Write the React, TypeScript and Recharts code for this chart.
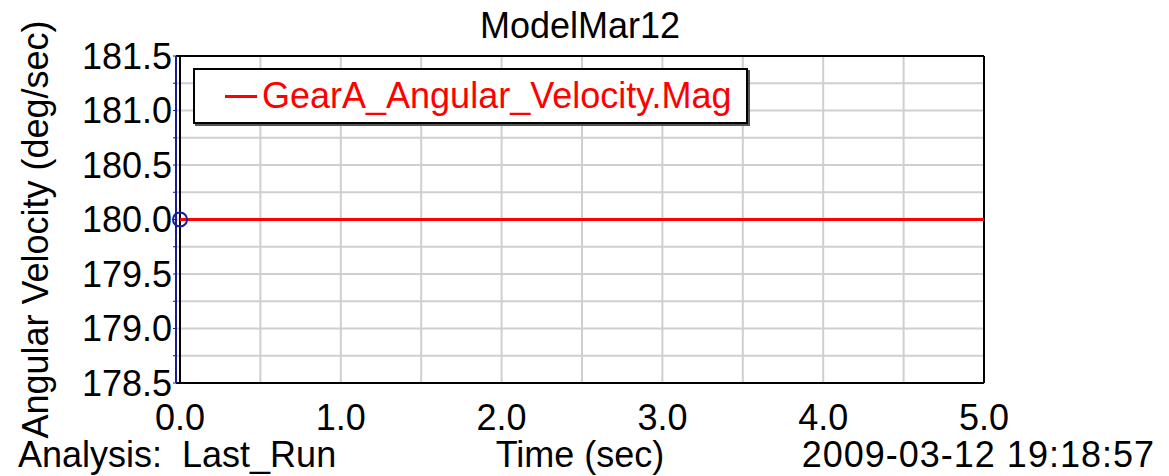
import { LineChart, Line, XAxis, YAxis, CartesianGrid, ReferenceLine, ReferenceDot } from "recharts";

const TIME = [0, 1, 2, 3, 4, 5];
const VELOCITY = [180, 180, 180, 180, 180, 180];
const X_TICKS = [0, 0.5, 1, 1.5, 2, 2.5, 3, 3.5, 4, 4.5, 5];
const Y_TICKS = [178.5, 178.75, 179, 179.25, 179.5, 179.75, 180, 180.25, 180.5, 180.75, 181, 181.25, 181.5];
const SERIES_NAME = "GearA_Angular_Velocity.Mag";

const data = TIME.map((t, i) => ({ t, vel: VELOCITY[i] }));

const FONT = "'Liberation Sans', Arial, sans-serif";
const tickStyle = { fill: "#000", fontSize: 36, fontFamily: FONT };

export default function App() {
  return (
    <div style={{ position: "absolute", left: 0, top: 0, width: 1169, height: 476, background: "#fff", fontFamily: FONT }}>
      <div style={{ position: "absolute", left: 0, width: 1160, top: 6, textAlign: "center", fontSize: 36, lineHeight: "40px" }}>ModelMar12</div>
      <LineChart width={1169} height={476} data={data} margin={{ top: 56, right: 185, bottom: 0, left: 0 }}>
        <CartesianGrid stroke="#cfcfcf" strokeWidth={2} />
        <XAxis
          dataKey="t" type="number" domain={[0, 5]} ticks={X_TICKS} interval={0} padding={{ left: 4, right: 0 }}
          tickFormatter={(v: number) => (Number.isInteger(v) ? v.toFixed(1) : "")}
          tick={tickStyle} axisLine={{ stroke: "#000", strokeWidth: 2 }} tickLine={false} tickMargin={15} height={93}
        />
        <YAxis
          type="number" domain={[178.5, 181.5]} ticks={Y_TICKS} interval={0} width={176}
          tickFormatter={(v: number) => (Math.abs(v * 2 - Math.round(v * 2)) < 1e-9 ? v.toFixed(1) : "")}
          tick={tickStyle} axisLine={{ stroke: "#1a1a9a", strokeWidth: 2 }}
          tickLine={{ stroke: "#1a1a9a" }} tickSize={3} tickMargin={1}
          label={{ value: "Angular Velocity (deg/sec)", angle: -90, position: "insideLeft", dx: 30, dy: 10, style: { fill: "#000", fontSize: 36, fontFamily: FONT, textAnchor: "middle" } }}
        />
        <ReferenceLine y={181.5} stroke="#000" strokeWidth={2} />
        <ReferenceLine x={5} stroke="#000" strokeWidth={2} />
        <ReferenceLine x={0} stroke="#000" strokeWidth={2} />
        <Line type="linear" dataKey="vel" name={SERIES_NAME} stroke="#ff0000" strokeWidth={3} dot={false} isAnimationActive={false} />
        <ReferenceDot x={0} y={180} r={7} fill="none" stroke="#1a1a9a" strokeWidth={2} />
      </LineChart>
      <div style={{
        position: "absolute", left: 193, top: 68, width: 551, height: 52, background: "#fff", border: "2px solid #000",
        boxShadow: "2px 2px 0 #555", display: "flex", alignItems: "center", fontSize: 36, color: "#ff0000",
      }}>
        <span style={{ display: "inline-block", width: 32, height: 3, background: "#ff0000", marginLeft: 30, marginRight: 5 }} />
        <span>{SERIES_NAME}</span>
      </div>
      <div style={{ position: "absolute", left: 18, top: 440, fontSize: 36, lineHeight: "30px", whiteSpace: "pre" }}>Analysis:  Last_Run</div>
      <div style={{ position: "absolute", left: 380, width: 400, top: 440, textAlign: "center", fontSize: 36, lineHeight: "30px" }}>Time (sec)</div>
      <div style={{ position: "absolute", right: 14, top: 440, fontSize: 36, lineHeight: "30px", letterSpacing: 1 }}>2009-03-12 19:18:57</div>
    </div>
  );
}
